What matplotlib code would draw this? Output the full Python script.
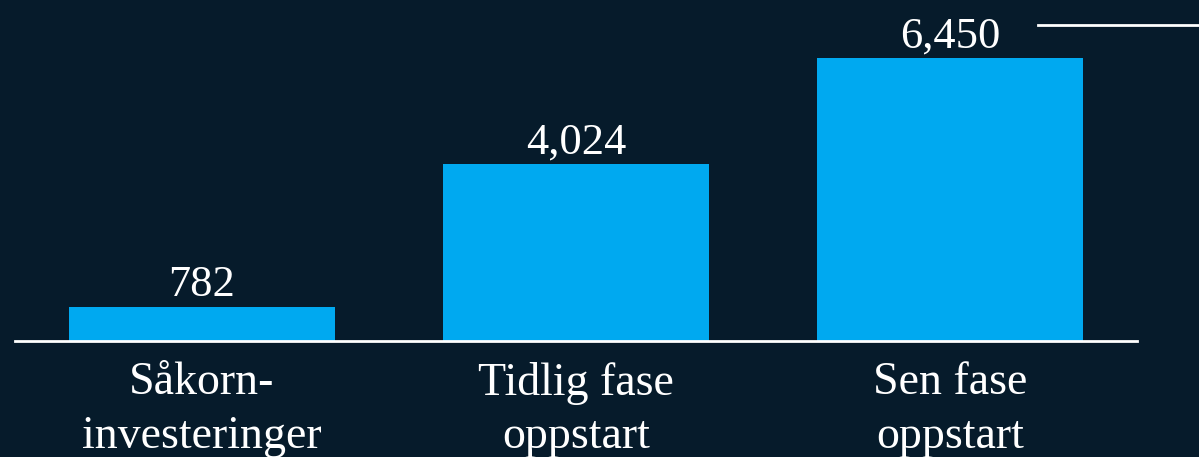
import matplotlib.pyplot as plt
from matplotlib.lines import Line2D

categories = ["Såkorn-\ninvesteringer", "Tidlig fase\noppstart", "Sen fase\noppstart"]
values = [782, 4024, 6450]

BG = "#061b2b"
BAR = "#00a9f0"
FONT = ["Liberation Serif", "DejaVu Serif"]

fig = plt.figure(figsize=(11.99, 4.57), dpi=100, facecolor=BG)
ax = fig.add_axes([15 / 1199, 116 / 457, 1122 / 1199, 341 / 457])
ax.set_facecolor(BG)

x = list(range(len(categories)))
bars = ax.bar(x, values, width=0.709, color=BAR)
ax.set_xlim(-0.5, 2.5)
ax.set_ylim(0, 7771)

for b, v in zip(bars, values):
    ax.annotate(f"{v:,}", (b.get_x() + b.get_width() / 2, v),
                xytext=(0, 7.5), textcoords="offset points",
                ha="center", va="baseline", color="white",
                fontsize=32, family=FONT)

ax.set_xticks(x)
ax.set_xticklabels(categories, color="white", fontsize=33, family=FONT,
                   linespacing=1.33)
ax.tick_params(axis="x", length=0, pad=15)
ax.set_yticks([])

for s in ["top", "right", "left"]:
    ax.spines[s].set_visible(False)
ax.spines["bottom"].set_color("white")
ax.spines["bottom"].set_linewidth(2)

# short decorative line at the top right
fig.add_artist(Line2D([1038 / 1199, 1.0], [1 - 25 / 457, 1 - 25 / 457],
                      color="white", lw=2, transform=fig.transFigure))

fig.savefig("out.png", dpi=100, facecolor=BG)
